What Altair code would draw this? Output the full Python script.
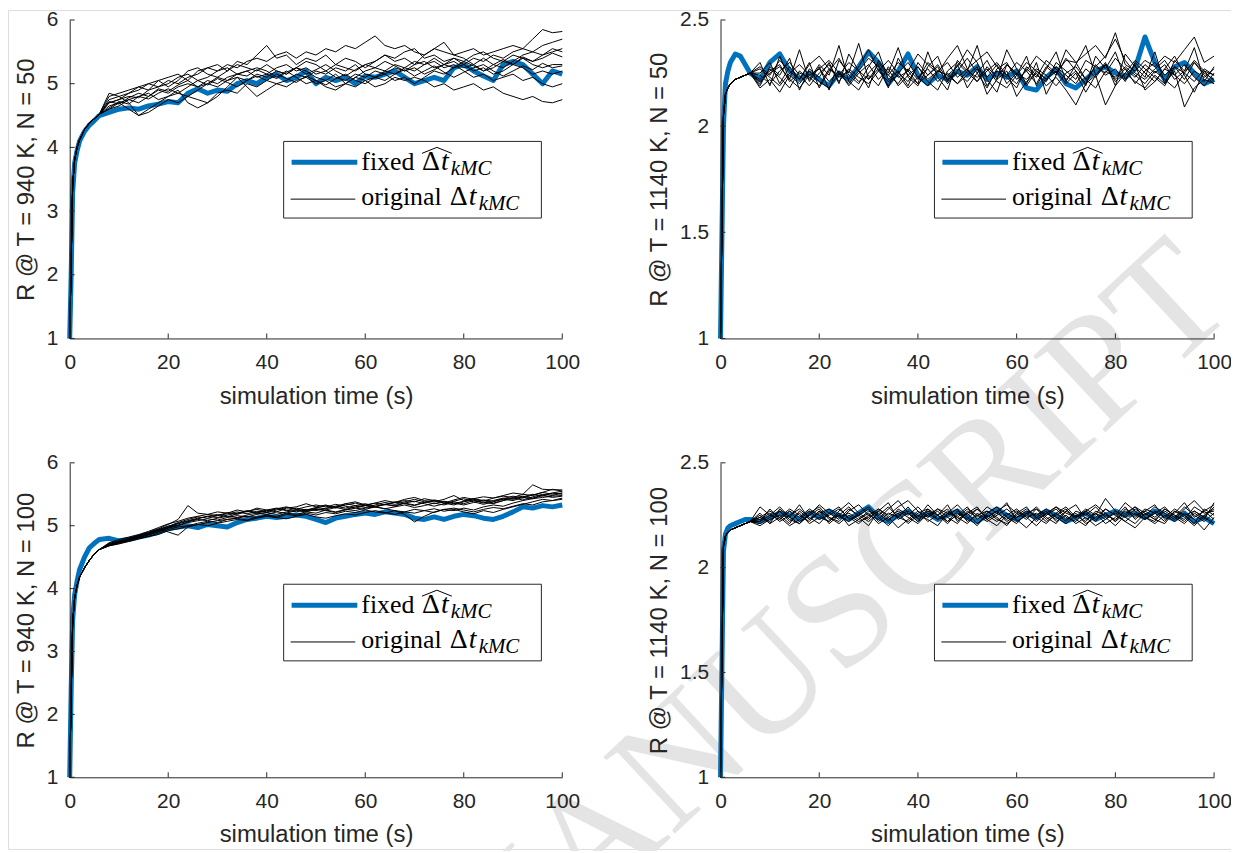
import altair as alt
import pandas as pd

# ---------------- data ----------------
T_EARLY = [0, 0.3, 0.6, 1, 1.5, 2, 3, 4, 5, 6]
T_TAIL = [8, 10, 12, 14, 16, 18, 20, 22, 24, 26,
          28, 30, 32, 34, 36, 38, 40, 42, 44, 46,
          48, 50, 52, 54, 56, 58, 60, 62, 64, 66,
          68, 70, 72, 74, 76, 78, 80, 82, 84, 86,
          88, 90, 92, 94, 96, 98, 100]

X_TICKS = [0, 20, 40, 60, 80, 100]
Y_TICKS_940 = [1, 2, 3, 4, 5, 6]
Y_TICKS_1140 = [1, 1.5, 2, 2.5]
X_TITLE = "simulation time (s)"
Y_TITLES = ["R @ T = 940 K, N = 50", "R @ T = 1140 K, N = 50",
            "R @ T = 940 K, N = 100", "R @ T = 1140 K, N = 100"]
LEGEND_LABELS = ["fixed", "original"]
LEGEND_SUB = "kMC"
WATERMARK = "ACCEPTED MANUSCRIPT"

# ---- panel A : 940 K, N = 50
A_PRE = [1.0, 2.2, 3.4, 3.8, 4.0, 4.12, 4.28, 4.38, 4.45, 4.52]
A_BLUE_PRE = [1.0, 2.0, 3.3, 3.75, 3.95, 4.1, 4.25, 4.35, 4.42, 4.5]
A_RUNS = [
    [4.70, 4.75, 4.80, 4.78, 4.90, 4.95, 5.05, 5.00, 5.10, 5.15,
     5.25, 5.20, 5.30, 5.25, 5.35, 5.40, 5.35, 5.45, 5.50, 5.40,
     5.50, 5.45, 5.55, 5.50, 5.60, 5.55, 5.65, 5.75, 5.60, 5.55,
     5.60, 5.50, 5.45, 5.55, 5.50, 5.45, 5.50, 5.55, 5.45, 5.50,
     5.55, 5.60, 5.55, 5.70, 5.85, 5.80, 5.82],
    [4.80, 4.85, 4.90, 4.95, 4.90, 5.05, 5.10, 5.15, 5.05, 5.20,
     5.25, 5.30, 5.20, 5.35, 5.30, 5.45, 5.60, 5.40, 5.45, 5.30,
     5.40, 5.35, 5.45, 5.30, 5.40, 5.35, 5.25, 5.35, 5.45, 5.40,
     5.50, 5.55, 5.40, 5.45, 5.35, 5.40, 5.30, 5.40, 5.35, 5.45,
     5.40, 5.50, 5.55, 5.50, 5.60, 5.65, 5.70],
    [4.65, 4.70, 4.60, 4.50, 4.55, 4.65, 4.75, 4.70, 4.80, 4.75,
     4.70, 4.85, 4.90, 4.85, 5.00, 4.95, 5.05, 5.00, 4.95, 5.05,
     5.10, 5.00, 5.05, 4.95, 5.00, 5.10, 5.05, 4.95, 5.00, 5.10,
     5.05, 5.10, 5.05, 4.95, 5.00, 4.90, 4.95, 5.00, 4.90, 4.95,
     4.85, 4.80, 4.75, 4.80, 4.72, 4.70, 4.75],
    [4.85, 4.80, 4.70, 4.50, 4.60, 4.70, 4.80, 4.85, 4.80, 4.90,
     5.00, 4.95, 5.05, 5.10, 5.05, 5.15, 5.10, 5.20, 5.15, 5.25,
     5.20, 5.10, 5.05, 5.15, 5.00, 5.10, 5.20, 5.25, 5.20, 5.30,
     5.25, 5.20, 5.30, 5.35, 5.25, 5.30, 5.20, 5.10, 5.15, 5.05,
     5.10, 5.15, 5.05, 5.10, 5.00, 4.95, 5.00],
    [4.60, 4.65, 4.75, 4.80, 4.85, 4.75, 4.80, 4.90, 4.70, 4.62,
     4.70, 4.80, 4.95, 5.10, 4.95, 4.80, 4.90, 5.00, 5.05, 5.15,
     5.10, 5.20, 5.15, 5.25, 5.20, 5.30, 5.15, 5.10, 5.20, 5.15,
     5.25, 5.35, 5.30, 5.40, 5.30, 5.35, 5.25, 5.30, 5.20, 5.25,
     5.35, 5.30, 5.40, 5.35, 5.45, 5.50, 5.55],
    [4.70, 4.75, 4.85, 4.90, 5.00, 4.95, 5.00, 5.10, 5.15, 5.05,
     5.10, 5.20, 5.25, 5.15, 5.20, 5.10, 5.15, 5.25, 5.30, 5.20,
     5.25, 5.15, 5.20, 5.30, 5.25, 5.20, 5.30, 5.35, 5.45, 5.35,
     5.40, 5.30, 5.35, 5.25, 5.30, 5.40, 5.35, 5.45, 5.50, 5.40,
     5.35, 5.45, 5.40, 5.30, 5.25, 5.30, 5.30],
    [4.60, 4.70, 4.75, 4.70, 4.80, 4.90, 4.85, 4.95, 5.00, 4.95,
     5.05, 5.00, 5.10, 5.15, 5.20, 5.25, 5.20, 5.10, 5.20, 5.10,
     5.00, 5.05, 4.95, 4.90, 5.00, 4.95, 5.05, 5.10, 5.15, 5.05,
     5.10, 5.00, 5.10, 5.20, 5.15, 5.25, 5.30, 5.20, 5.25, 5.15,
     5.20, 5.30, 5.25, 5.15, 5.20, 5.15, 5.20],
    [4.75, 4.80, 4.85, 4.95, 5.00, 5.05, 4.95, 5.05, 5.20, 5.25,
     5.15, 5.10, 5.20, 5.30, 5.25, 5.20, 5.30, 5.20, 5.15, 5.25,
     5.35, 5.30, 5.20, 5.10, 5.05, 5.15, 5.10, 5.20, 5.15, 5.25,
     5.20, 5.30, 5.45, 5.55, 5.65, 5.45, 5.40, 5.30, 5.40, 5.30,
     5.25, 5.35, 5.45, 5.50, 5.45, 5.55, 5.50],
    [4.72, 4.68, 4.78, 4.85, 4.80, 4.92, 4.88, 4.98, 5.05, 4.95,
     5.00, 5.10, 5.05, 5.15, 5.12, 5.22, 5.15, 5.08, 5.18, 5.25,
     5.15, 5.22, 5.30, 5.20, 5.12, 5.22, 5.30, 5.25, 5.35, 5.28,
     5.20, 5.25, 5.15, 5.22, 5.30, 5.25, 5.35, 5.28, 5.20, 5.30,
     5.38, 5.30, 5.42, 5.35, 5.40, 5.48, 5.42],
    [4.62, 4.72, 4.68, 4.80, 4.76, 4.85, 4.92, 4.85, 4.95, 5.05,
     4.98, 5.08, 5.02, 4.95, 5.05, 5.12, 5.05, 5.15, 5.08, 5.02,
     5.12, 5.05, 4.98, 5.08, 5.15, 5.05, 5.00, 5.10, 5.05, 5.15,
     5.22, 5.12, 5.20, 5.28, 5.18, 5.10, 5.18, 5.25, 5.30, 5.20,
     5.12, 5.20, 5.28, 5.22, 5.32, 5.25, 5.28],
]
A_BLUE = [4.55, 4.60, 4.62, 4.60, 4.65, 4.68, 4.72, 4.70, 4.85, 4.92,
          4.85, 4.90, 4.88, 5.00, 5.05, 5.00, 5.10, 5.15, 5.05, 5.10,
          5.20, 5.00, 5.10, 5.05, 5.10, 5.00, 5.12, 5.10, 5.15, 5.20,
          5.10, 5.00, 5.05, 5.10, 5.05, 5.25, 5.30, 5.20, 5.12, 5.05,
          5.30, 5.35, 5.30, 5.15, 5.00, 5.20, 5.15]

# ---- panel B : 1140 K, N = 50
B_PRE = [1.0, 1.55, 2.05, 2.15, 2.18, 2.2, 2.22, 2.23, 2.24, 2.25]
B_BLUE_PRE = [1.0, 1.5, 2.0, 2.2, 2.26, 2.3, 2.34, 2.33, 2.29, 2.25]
B_RUNS = [
    [2.25, 2.30, 2.20, 2.28, 2.22, 2.30, 2.18, 2.26, 2.32, 2.24,
     2.20, 2.28, 2.35, 2.22, 2.26, 2.19, 2.30, 2.24, 2.28, 2.20,
     2.26, 2.32, 2.25, 2.18, 2.27, 2.30, 2.22, 2.26, 2.20, 2.28,
     2.24, 2.36, 2.30, 2.22, 2.28, 2.25, 2.32, 2.27, 2.20, 2.26,
     2.30, 2.24, 2.28, 2.22, 2.30, 2.25, 2.22],
    [2.20, 2.27, 2.23, 2.18, 2.26, 2.22, 2.29, 2.24, 2.38, 2.21,
     2.17, 2.25, 2.30, 2.24, 2.20, 2.27, 2.22, 2.30, 2.26, 2.24,
     2.28, 2.36, 2.30, 2.19, 2.26, 2.23, 2.18, 2.28, 2.24, 2.21,
     2.30, 2.26, 2.22, 2.31, 2.28, 2.33, 2.41, 2.31, 2.25, 2.22,
     2.27, 2.31, 2.24, 2.20, 2.26, 2.23, 2.27],
    [2.18, 2.22, 2.16, 2.24, 2.20, 2.26, 2.21, 2.18, 2.25, 2.22,
     2.28, 2.36, 2.26, 2.21, 2.24, 2.18, 2.23, 2.27, 2.21, 2.25,
     2.20, 2.24, 2.28, 2.15, 2.22, 2.26, 2.14, 2.21, 2.25, 2.19,
     2.23, 2.17, 2.10, 2.20, 2.24, 2.10, 2.19, 2.25, 2.21, 2.18,
     2.24, 2.20, 2.26, 2.09, 2.18, 2.22, 2.20],
    [2.28, 2.24, 2.31, 2.26, 2.22, 2.29, 2.33, 2.27, 2.24, 2.30,
     2.26, 2.32, 2.28, 2.24, 2.30, 2.26, 2.34, 2.29, 2.25, 2.32,
     2.38, 2.27, 2.31, 2.35, 2.28, 2.24, 2.30, 2.26, 2.33, 2.29,
     2.25, 2.31, 2.30, 2.34, 2.38, 2.32, 2.44, 2.29, 2.26, 2.31,
     2.28, 2.33, 2.30, 2.36, 2.42, 2.30, 2.33],
    [2.22, 2.26, 2.29, 2.21, 2.25, 2.23, 2.19, 2.27, 2.23, 2.26,
     2.21, 2.24, 2.19, 2.28, 2.23, 2.26, 2.20, 2.24, 2.29, 2.22,
     2.25, 2.21, 2.27, 2.23, 2.29, 2.20, 2.25, 2.22, 2.27, 2.24,
     2.19, 2.25, 2.28, 2.22, 2.18, 2.26, 2.23, 2.28, 2.24, 2.20,
     2.26, 2.22, 2.18, 2.25, 2.21, 2.27, 2.24],
    [2.24, 2.20, 2.26, 2.30, 2.24, 2.19, 2.25, 2.29, 2.21, 2.27,
     2.23, 2.20, 2.26, 2.31, 2.25, 2.21, 2.28, 2.22, 2.26, 2.30,
     2.23, 2.27, 2.21, 2.26, 2.30, 2.24, 2.20, 2.27, 2.23, 2.31,
     2.27, 2.22, 2.26, 2.20, 2.29, 2.24, 2.27, 2.21, 2.30, 2.25,
     2.21, 2.27, 2.24, 2.29, 2.23, 2.19, 2.25],
    [2.27, 2.23, 2.19, 2.25, 2.29, 2.24, 2.27, 2.21, 2.26, 2.19,
     2.25, 2.29, 2.22, 2.27, 2.19, 2.24, 2.28, 2.21, 2.17, 2.26,
     2.30, 2.25, 2.21, 2.28, 2.23, 2.29, 2.25, 2.19, 2.26, 2.22,
     2.28, 2.24, 2.20, 2.27, 2.23, 2.29, 2.21, 2.25, 2.31, 2.27,
     2.23, 2.19, 2.28, 2.25, 2.31, 2.26, 2.21],
    [2.21, 2.25, 2.28, 2.22, 2.18, 2.24, 2.27, 2.31, 2.25, 2.20,
     2.26, 2.22, 2.27, 2.19, 2.25, 2.30, 2.23, 2.19, 2.26, 2.24,
     2.20, 2.26, 2.23, 2.27, 2.21, 2.18, 2.24, 2.30, 2.26, 2.22,
     2.26, 2.20, 2.25, 2.16, 2.24, 2.29, 2.22, 2.27, 2.23, 2.29,
     2.25, 2.29, 2.22, 2.26, 2.30, 2.24, 2.20],
    [2.30, 2.19, 2.33, 2.22, 2.36, 2.21, 2.28, 2.17, 2.31, 2.25,
     2.39, 2.22, 2.29, 2.18, 2.32, 2.24, 2.20, 2.35, 2.23, 2.17,
     2.31, 2.26, 2.38, 2.22, 2.16, 2.29, 2.24, 2.33, 2.19, 2.27,
     2.35, 2.21, 2.29, 2.38, 2.24, 2.30, 2.19, 2.34, 2.28, 2.23,
     2.35, 2.20, 2.31, 2.26, 2.37, 2.21, 2.28],
    [2.19, 2.28, 2.24, 2.32, 2.17, 2.27, 2.23, 2.30, 2.20, 2.34,
     2.26, 2.18, 2.31, 2.25, 2.37, 2.23, 2.19, 2.28, 2.33, 2.21,
     2.29, 2.18, 2.25, 2.31, 2.22, 2.36, 2.27, 2.20, 2.30, 2.15,
     2.24, 2.32, 2.26, 2.19, 2.33, 2.27, 2.35, 2.22, 2.29, 2.17,
     2.21, 2.27, 2.33, 2.24, 2.16, 2.26, 2.24],
]
B_BLUE = [2.22, 2.30, 2.34, 2.26, 2.22, 2.25, 2.22, 2.19, 2.25, 2.22,
          2.28, 2.35, 2.30, 2.20, 2.26, 2.34, 2.24, 2.20, 2.24, 2.22,
          2.26, 2.24, 2.28, 2.22, 2.25, 2.23, 2.26, 2.18, 2.17, 2.23,
          2.27, 2.20, 2.18, 2.22, 2.26, 2.28, 2.25, 2.23, 2.27, 2.42,
          2.30, 2.22, 2.28, 2.30, 2.25, 2.20, 2.22]

# ---- panel C : 940 K, N = 100
C_PRE = [1.0, 2.3, 3.45, 3.85, 4.05, 4.18, 4.33, 4.45, 4.55, 4.62]
C_BLUE_PRE = [1.0, 2.4, 3.5, 3.9, 4.12, 4.3, 4.5, 4.65, 4.72, 4.78]
C_RUNS = [
    [4.72, 4.76, 4.80, 4.85, 4.90, 4.95, 5.02, 5.10, 5.32, 5.20,
     5.18, 5.22, 5.20, 5.25, 5.22, 5.28, 5.25, 5.22, 5.28, 5.30,
     5.35, 5.30, 5.33, 5.28, 5.35, 5.38, 5.33, 5.36, 5.40, 5.37,
     5.42, 5.45, 5.40, 5.38, 5.42, 5.48, 5.40, 5.43, 5.46, 5.44,
     5.48, 5.52, 5.50, 5.65, 5.58, 5.57, 5.57],
    [4.70, 4.74, 4.78, 4.82, 4.88, 4.95, 4.90, 4.85, 4.98, 5.02,
     5.05, 5.08, 5.10, 5.12, 5.15, 5.13, 5.17, 5.15, 5.20, 5.18,
     5.22, 5.20, 5.25, 5.22, 5.26, 5.24, 5.28, 5.30, 5.27, 5.30,
     5.33, 5.29, 5.32, 5.36, 5.33, 5.38, 5.35, 5.40, 5.36, 5.40,
     5.44, 5.42, 5.46, 5.50, 5.47, 5.52, 5.55],
    [4.68, 4.72, 4.76, 4.80, 4.83, 4.88, 4.94, 4.98, 5.00, 5.04,
     5.07, 5.05, 5.10, 5.12, 5.09, 5.14, 5.16, 5.13, 5.18, 5.16,
     5.20, 5.17, 5.21, 5.19, 5.23, 5.21, 5.25, 5.22, 5.20, 5.24,
     5.22, 5.26, 5.24, 5.21, 5.26, 5.28, 5.25, 5.22, 5.26, 5.29,
     5.27, 5.31, 5.35, 5.33, 5.38, 5.40, 5.42],
    [4.71, 4.75, 4.79, 4.84, 4.87, 4.92, 4.97, 5.04, 5.08, 5.12,
     5.15, 5.18, 5.14, 5.19, 5.23, 5.20, 5.24, 5.27, 5.24, 5.28,
     5.25, 5.29, 5.27, 5.31, 5.28, 5.32, 5.35, 5.31, 5.34, 5.38,
     5.35, 5.32, 5.37, 5.40, 5.36, 5.33, 5.38, 5.41, 5.37, 5.35,
     5.40, 5.44, 5.41, 5.46, 5.50, 5.48, 5.52],
    [4.69, 4.73, 4.77, 4.81, 4.86, 4.90, 4.96, 5.00, 5.06, 5.10,
     5.08, 5.12, 5.15, 5.13, 5.17, 5.20, 5.18, 5.22, 5.20, 5.24,
     5.22, 5.26, 5.24, 5.21, 5.25, 5.28, 5.26, 5.30, 5.27, 5.24,
     5.18, 5.06, 5.15, 5.22, 5.26, 5.24, 5.28, 5.25, 5.30, 5.33,
     5.31, 5.36, 5.40, 5.43, 5.45, 5.47, 5.48],
    [4.73, 4.78, 4.82, 4.86, 4.91, 4.97, 5.03, 5.07, 5.12, 5.15,
     5.18, 5.16, 5.21, 5.18, 5.23, 5.26, 5.22, 5.27, 5.30, 5.26,
     5.30, 5.33, 5.30, 5.34, 5.31, 5.28, 5.32, 5.36, 5.33, 5.37,
     5.40, 5.38, 5.43, 5.40, 5.36, 5.41, 5.45, 5.42, 5.39, 5.44,
     5.47, 5.45, 5.50, 5.48, 5.53, 5.50, 5.52],
    [4.68, 4.71, 4.75, 4.79, 4.83, 4.86, 4.92, 4.95, 4.99, 5.02,
     5.00, 5.04, 5.07, 5.10, 5.08, 5.12, 5.15, 5.13, 5.11, 5.15,
     5.18, 5.14, 5.12, 5.16, 5.19, 5.17, 5.21, 5.24, 5.21, 5.18,
     5.22, 5.20, 5.24, 5.27, 5.23, 5.26, 5.22, 5.19, 5.24, 5.21,
     5.26, 5.30, 5.34, 5.38, 5.42, 5.40, 5.44],
    [4.70, 4.74, 4.79, 4.83, 4.88, 4.93, 4.99, 5.05, 5.10, 5.14,
     5.12, 5.16, 5.19, 5.22, 5.19, 5.23, 5.21, 5.25, 5.29, 5.26,
     5.24, 5.28, 5.32, 5.29, 5.33, 5.36, 5.32, 5.30, 5.34, 5.31,
     5.36, 5.39, 5.35, 5.31, 5.35, 5.39, 5.43, 5.38, 5.34, 5.38,
     5.42, 5.40, 5.45, 5.43, 5.48, 5.45, 5.47],
    [4.69, 4.73, 4.78, 4.81, 4.85, 4.91, 4.97, 5.01, 5.05, 5.08,
     5.11, 5.09, 5.13, 5.16, 5.14, 5.18, 5.21, 5.18, 5.22, 5.25,
     5.23, 5.27, 5.25, 5.29, 5.26, 5.30, 5.33, 5.30, 5.34, 5.32,
     5.36, 5.33, 5.37, 5.41, 5.38, 5.35, 5.39, 5.43, 5.40, 5.36,
     5.40, 5.44, 5.47, 5.44, 5.49, 5.52, 5.50],
    [4.71, 4.75, 4.80, 4.84, 4.89, 4.94, 4.99, 5.03, 5.07, 5.11,
     5.15, 5.13, 5.17, 5.20, 5.24, 5.21, 5.25, 5.28, 5.25, 5.22,
     5.26, 5.24, 5.28, 5.31, 5.35, 5.32, 5.29, 5.33, 5.37, 5.34,
     5.38, 5.42, 5.38, 5.35, 5.39, 5.36, 5.33, 5.37, 5.41, 5.39,
     5.43, 5.47, 5.44, 5.49, 5.53, 5.58, 5.55],
]
C_BLUE = [4.80, 4.76, 4.78, 4.82, 4.85, 4.90, 4.96, 4.98, 5.00, 4.97,
          5.02, 5.00, 4.98, 5.05, 5.10, 5.12, 5.15, 5.13, 5.15, 5.17,
          5.15, 5.10, 5.05, 5.12, 5.15, 5.18, 5.20, 5.18, 5.22, 5.20,
          5.18, 5.12, 5.10, 5.14, 5.10, 5.15, 5.18, 5.16, 5.12, 5.10,
          5.15, 5.22, 5.30, 5.28, 5.32, 5.30, 5.33]

# ---- panel D : 1140 K, N = 100
D_PRE = [1.0, 1.6, 2.1, 2.15, 2.17, 2.18, 2.19, 2.2, 2.21, 2.22]
D_BLUE_PRE = [1.0, 1.55, 2.08, 2.16, 2.19, 2.2, 2.21, 2.22, 2.23, 2.23]
D_RUNS = [
    [2.23, 2.26, 2.22, 2.25, 2.28, 2.24, 2.21, 2.26, 2.29, 2.23,
     2.25, 2.28, 2.22, 2.26, 2.24, 2.29, 2.23, 2.27, 2.25, 2.21,
     2.26, 2.23, 2.28, 2.24, 2.27, 2.22, 2.25, 2.28, 2.24, 2.21,
     2.26, 2.29, 2.24, 2.27, 2.23, 2.26, 2.22, 2.28, 2.25, 2.27,
     2.24, 2.28, 2.25, 2.22, 2.27, 2.24, 2.29],
    [2.24, 2.22, 2.27, 2.23, 2.21, 2.26, 2.29, 2.24, 2.22, 2.27,
     2.30, 2.25, 2.23, 2.28, 2.32, 2.26, 2.22, 2.25, 2.28, 2.24,
     2.21, 2.27, 2.24, 2.29, 2.26, 2.23, 2.27, 2.24, 2.20, 2.25,
     2.28, 2.23, 2.26, 2.21, 2.24, 2.28, 2.25, 2.31, 2.27, 2.23,
     2.26, 2.29, 2.24, 2.21, 2.26, 2.23, 2.31],
    [2.21, 2.24, 2.27, 2.22, 2.26, 2.21, 2.24, 2.22, 2.26, 2.20,
     2.23, 2.26, 2.21, 2.24, 2.19, 2.23, 2.27, 2.22, 2.25, 2.28,
     2.23, 2.26, 2.21, 2.25, 2.22, 2.26, 2.23, 2.19, 2.24, 2.27,
     2.22, 2.25, 2.21, 2.24, 2.20, 2.23, 2.26, 2.22, 2.19, 2.24,
     2.21, 2.25, 2.22, 2.26, 2.23, 2.18, 2.24],
    [2.29, 2.25, 2.23, 2.27, 2.24, 2.28, 2.25, 2.22, 2.27, 2.31,
     2.26, 2.23, 2.28, 2.25, 2.29, 2.32, 2.27, 2.24, 2.28, 2.26,
     2.30, 2.25, 2.28, 2.24, 2.27, 2.30, 2.26, 2.23, 2.28, 2.25,
     2.29, 2.26, 2.24, 2.28, 2.25, 2.33, 2.27, 2.24, 2.28, 2.25,
     2.29, 2.26, 2.23, 2.28, 2.32, 2.27, 2.30],
    [2.22, 2.25, 2.29, 2.24, 2.21, 2.25, 2.28, 2.23, 2.25, 2.22,
     2.26, 2.29, 2.24, 2.20, 2.25, 2.27, 2.24, 2.30, 2.25, 2.22,
     2.27, 2.24, 2.20, 2.26, 2.29, 2.24, 2.21, 2.26, 2.28, 2.23,
     2.26, 2.22, 2.27, 2.25, 2.29, 2.24, 2.20, 2.25, 2.29, 2.26,
     2.23, 2.27, 2.24, 2.29, 2.25, 2.22, 2.26],
    [2.25, 2.21, 2.24, 2.28, 2.25, 2.22, 2.27, 2.24, 2.21, 2.25,
     2.22, 2.24, 2.27, 2.23, 2.26, 2.21, 2.25, 2.23, 2.20, 2.26,
     2.24, 2.21, 2.26, 2.23, 2.20, 2.25, 2.28, 2.24, 2.26, 2.22,
     2.25, 2.28, 2.23, 2.20, 2.26, 2.23, 2.27, 2.24, 2.21, 2.26,
     2.23, 2.21, 2.27, 2.24, 2.20, 2.25, 2.28],
    [2.20, 2.23, 2.25, 2.21, 2.27, 2.23, 2.26, 2.28, 2.24, 2.26,
     2.23, 2.27, 2.25, 2.29, 2.24, 2.22, 2.26, 2.28, 2.23, 2.25,
     2.28, 2.22, 2.25, 2.27, 2.23, 2.21, 2.24, 2.27, 2.25, 2.28,
     2.24, 2.21, 2.25, 2.22, 2.27, 2.25, 2.23, 2.27, 2.24, 2.28,
     2.26, 2.22, 2.27, 2.25, 2.21, 2.28, 2.25],
    [2.24, 2.27, 2.24, 2.20, 2.23, 2.27, 2.23, 2.25, 2.28, 2.24,
     2.21, 2.25, 2.28, 2.24, 2.27, 2.24, 2.21, 2.26, 2.23, 2.27,
     2.24, 2.28, 2.25, 2.22, 2.25, 2.28, 2.24, 2.26, 2.22, 2.26,
     2.23, 2.27, 2.24, 2.26, 2.22, 2.28, 2.25, 2.22, 2.26, 2.23,
     2.27, 2.24, 2.28, 2.25, 2.27, 2.24, 2.21],
    [2.26, 2.21, 2.28, 2.24, 2.30, 2.23, 2.27, 2.21, 2.25, 2.29,
     2.24, 2.20, 2.27, 2.31, 2.23, 2.26, 2.22, 2.28, 2.25, 2.30,
     2.22, 2.26, 2.29, 2.23, 2.26, 2.31, 2.22, 2.25, 2.29, 2.24,
     2.21, 2.27, 2.30, 2.23, 2.26, 2.21, 2.24, 2.29, 2.23, 2.27,
     2.30, 2.23, 2.26, 2.31, 2.24, 2.27, 2.23],
    [2.22, 2.28, 2.23, 2.27, 2.22, 2.25, 2.30, 2.26, 2.23, 2.28,
     2.25, 2.22, 2.26, 2.22, 2.28, 2.25, 2.29, 2.24, 2.27, 2.22,
     2.25, 2.29, 2.23, 2.27, 2.24, 2.20, 2.26, 2.29, 2.23, 2.26,
     2.29, 2.24, 2.22, 2.27, 2.30, 2.26, 2.22, 2.26, 2.29, 2.24,
     2.22, 2.28, 2.25, 2.23, 2.29, 2.26, 2.27],
]
D_BLUE = [2.22, 2.24, 2.26, 2.25, 2.23, 2.26, 2.24, 2.27, 2.25, 2.23,
          2.26, 2.29, 2.24, 2.22, 2.25, 2.27, 2.24, 2.26, 2.23, 2.25,
          2.27, 2.24, 2.22, 2.25, 2.28, 2.25, 2.23, 2.26, 2.24, 2.27,
          2.25, 2.22, 2.24, 2.26, 2.23, 2.25, 2.27, 2.25, 2.26, 2.24,
          2.27, 2.25, 2.23, 2.26, 2.22, 2.24, 2.21]

# ---------------- style / layout ----------------
BLUE = "#0072BD"
AX = "#262626"
SANS = "Liberation Sans"
SERIF = "Liberation Serif"
VW, VH = 1229, 843              # whole canvas (view) size
LEFT_X = [62, 716]              # left edge of plot areas (columns)
RIGHT_X = [557, 1212]           # right edge
TOP_Y = [10, 455]               # top edge (rows)
BOT_Y = [330, 771]              # bottom edge
ONE = pd.DataFrame({"d": [0]})


def legend_layers(bx, by):
    base = alt.Chart(ONE)
    lay = [
        base.mark_rect(fill="white", stroke=AX, strokeWidth=1).encode(
            x=alt.value(bx), x2=alt.value(bx + 259),
            y=alt.value(by), y2=alt.value(by + 77)),
        base.mark_rule(color=BLUE, strokeWidth=5).encode(
            x=alt.value(bx + 8), x2=alt.value(bx + 74), y=alt.value(by + 21)),
        base.mark_rule(color="black", strokeWidth=1).encode(
            x=alt.value(bx + 7), x2=alt.value(bx + 72), y=alt.value(by + 58)),
    ]
    txt = dict(align="left", baseline="alphabetic", font=SERIF, color="black")
    rows = [(LEGEND_LABELS[0], by + 29, 139), (LEGEND_LABELS[1], by + 64, 167)]
    for label, base_y, dx in rows:
        lay.append(base.mark_text(fontSize=26, **txt).encode(
            x=alt.value(bx + 78), y=alt.value(base_y), text=alt.value(label)))
        lay.append(base.mark_text(fontSize=28, **txt).encode(
            x=alt.value(bx + dx), y=alt.value(base_y), text=alt.value("Δ")))
        lay.append(base.mark_text(fontSize=28, fontStyle="italic", **txt).encode(
            x=alt.value(bx + dx + 19), y=alt.value(base_y), text=alt.value("t")))
        lay.append(base.mark_text(fontSize=21, fontStyle="italic", **txt).encode(
            x=alt.value(bx + dx + 29), y=alt.value(base_y + 5), text=alt.value(LEGEND_SUB)))
    hx = bx + 139
    hy = by + 12
    lay.append(base.mark_rule(color="black", strokeWidth=1).encode(
        x=alt.value(hx), y=alt.value(hy), x2=alt.value(hx + 15), y2=alt.value(hy - 6)))
    lay.append(base.mark_rule(color="black", strokeWidth=1).encode(
        x=alt.value(hx + 15), y=alt.value(hy - 6), x2=alt.value(hx + 30), y2=alt.value(hy)))
    return lay


def panel(pre, blue_pre, runs, blue, ytitle, ydom, yticks, col, row):
    x0, x1, y0, y1 = LEFT_X[col], RIGHT_X[col], TOP_Y[row], BOT_Y[row]
    T = T_EARLY + T_TAIL
    recs = []
    for k, tail in enumerate(runs):
        for t, r in zip(T, pre + tail):
            recs.append({"t": t, "R": r, "run": "run%d" % (k + 1)})
    black = pd.DataFrame(recs)
    bl = pd.DataFrame({"t": T, "R": blue_pre + blue})

    common = dict(grid=False, ticks=False, zindex=1,
                  domainColor=AX, domainWidth=1, labelColor=AX, labelFont=SANS,
                  labelFontSize=21, labelFlush=False, labelOverlap=False,
                  titleFont=SANS, titleFontSize=24, titleFontWeight="normal", titleColor=AX)
    xaxis = alt.Axis(orient="bottom", offset=y1 - VH, values=X_TICKS, format="d",
                     title=X_TITLE, labelPadding=13, titlePadding=12, **common)
    yaxis = alt.Axis(orient="left", offset=-x0, values=yticks, format="~g", title=ytitle,
                     labelPadding=12, titlePadding=8, **common)
    x = alt.X("t:Q", scale=alt.Scale(domain=[0, 100], range=[x0, x1], nice=False, zero=False),
              axis=xaxis)
    y = alt.Y("R:Q", scale=alt.Scale(domain=ydom, range=[y1, y0], nice=False, zero=False),
              axis=yaxis)

    layers = [
        alt.Chart(bl).mark_line(color=BLUE, strokeWidth=5, strokeJoin="round").encode(x=x, y=y),
        alt.Chart(black).mark_line(color="black", strokeWidth=1).encode(x=x, y=y, detail="run:N"),
        alt.Chart(pd.DataFrame({"t": X_TICKS})).mark_rule(color=AX, strokeWidth=1)
        .encode(x=x, y=alt.value(y1), y2=alt.value(y1 - 5)),
        alt.Chart(pd.DataFrame({"R": yticks})).mark_rule(color=AX, strokeWidth=1)
        .encode(y=y, x=alt.value(x0), x2=alt.value(x0 + 5)),
    ]
    layers += legend_layers(x0 + 215, y0 + 122)
    return alt.layer(*layers)


watermark = alt.Chart(ONE).mark_text(
    font=SERIF, fontSize=161, color="#e4e4e4", angle=317,
    align="right", baseline="alphabetic").encode(
    x=alt.value(1236), y=alt.value(300), text=alt.value(WATERMARK))

pA = panel(A_PRE, A_BLUE_PRE, A_RUNS, A_BLUE, Y_TITLES[0], [1, 6], Y_TICKS_940, 0, 0)
pB = panel(B_PRE, B_BLUE_PRE, B_RUNS, B_BLUE, Y_TITLES[1], [1, 2.5], Y_TICKS_1140, 1, 0)
pC = panel(C_PRE, C_BLUE_PRE, C_RUNS, C_BLUE, Y_TITLES[2], [1, 6], Y_TICKS_940, 0, 1)
pD = panel(D_PRE, D_BLUE_PRE, D_RUNS, D_BLUE, Y_TITLES[3], [1, 2.5], Y_TICKS_1140, 1, 1)

chart = alt.layer(watermark, pA, pB, pC, pD).resolve_scale(
    x="independent", y="independent"
).resolve_axis(x="independent", y="independent").properties(
    width=VW, height=VH, padding=0,
    autosize=alt.AutoSizeParams(type="none"),
).configure_view(stroke=None).configure(background="white")

chart.save("out.html", embed_options={"renderer": "svg", "actions": False})
